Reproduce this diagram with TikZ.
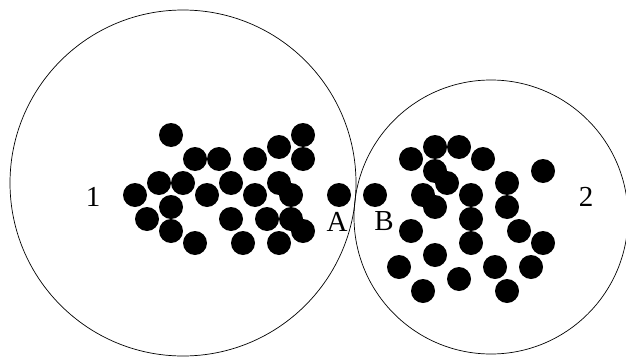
\documentclass[tikz,border=0pt]{standalone}
\usepackage{fontspec}
\setmainfont{Liberation Serif}
\usepackage{tikz}
\usetikzlibrary{positioning}

\begin{document}
\begin{tikzpicture}[x=1pt,y=-1pt,
  dot/.style={circle,fill=black,inner sep=0pt,minimum size=24pt},
  blob/.style={circle,draw=black,line width=0.7pt,inner sep=0pt},
  lbl/.style={font=\fontsize{29}{34}\selectfont,inner sep=0pt}]
\useasboundingbox (0,0) rectangle (626,356);
% the two clusters
\node[blob,minimum size=346pt] (one) at (183,183) {};
\node[blob,minimum size=274pt] (two) at (491,217) {};
% points of cluster 1
\foreach \x/\y [count=\i] in {171/135,303/135,279/147,195/159,219/159,255/159,303/159,
  159/183,183/183,231/183,279/183,135/195,207/195,255/195,291/195,171/207,
  147/219,231/219,267/219,291/219,171/231,303/231,195/243,243/243,279/243}
  \node[dot] (p\i) at (\x,\y) {};
% points of cluster 2
\foreach \x/\y [count=\i] in {411/159,435/147,459/147,483/159,435/171,447/183,
  423/195,435/207,471/195,507/183,543/171,507/207,471/219,411/231,519/231,
  471/243,543/243,435/255,399/267,495/267,531/267,459/279,423/291,507/291}
  \node[dot] (q\i) at (\x,\y) {};
\node[dot] (ptA) at (339,195) {};
\node[dot] (ptB) at (375,195) {};
% labels
\node[lbl] (lone) at (93,197) {1};
\node[lbl] (ltwo) at (586,197) {2};
\node[lbl] (lA) at (337,221.5) {A};
\node[lbl] (lB) at (384,221.5) {B};
\end{tikzpicture}
\end{document}
